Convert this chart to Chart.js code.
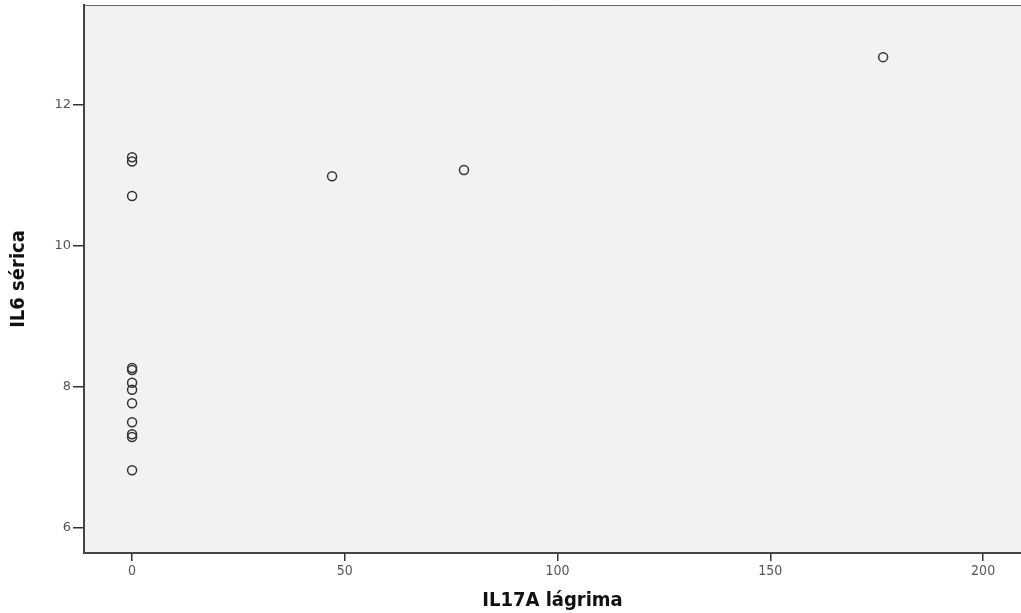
<!DOCTYPE html>
<html>
<head>
<meta charset="utf-8">
<script src="https://cdn.jsdelivr.net/npm/chart.js@4/dist/chart.umd.min.js"></script>
<style>
  html, body { margin: 0; padding: 0; background: #fff; overflow: hidden; }
  canvas { display: block; }
</style>
</head>
<body>
<canvas id="scatter" width="1021" height="613"></canvas>
<script>
// IL17A en lágrima (eje x) frente a IL6 sérica (eje y)
const il17aLagrima = [0, 0, 0, 0, 0, 0, 0, 0, 0, 0, 0, 0, 47, 78, 176.5];
const il6Serica   = [11.26, 11.2, 10.71, 8.27, 8.24, 8.06, 7.96, 7.77, 7.5, 7.33, 7.29, 6.82, 10.99, 11.08, 12.68];
const xTicks = [0, 50, 100, 150, 200];
const yTicks = [6, 8, 10, 12];

const puntos = il17aLagrima.map((x, i) => ({ x: x, y: il6Serica[i] }));

const fuenteTitulo = "'DejaVu Sans Condensed', 'Roboto Condensed', 'DejaVu Sans', sans-serif";

// fondo gris del área de trazado + borde superior
const fondoPlot = {
    id: 'fondoPlot',
    beforeDraw(chart) {
        const a = chart.chartArea, c = chart.ctx;
        c.save();
        c.fillStyle = '#f2f2f2';
        c.fillRect(a.left, a.top, a.right - a.left, a.bottom - a.top);
        c.strokeStyle = '#666';
        c.lineWidth = 1;
        c.beginPath();
        c.moveTo(a.left, a.top + 0.5);
        c.lineTo(a.right, a.top + 0.5);
        c.stroke();
        c.restore();
    }
};

new Chart(document.getElementById('scatter'), {
    type: 'scatter',
    data: {
        datasets: [{
            data: puntos,
            pointRadius: 4.5,
            pointBorderWidth: 1.5,
            borderColor: '#333',
            backgroundColor: 'rgba(0,0,0,0)'
        }]
    },
    options: {
        responsive: false,
        animation: false,
        layout: { autoPadding: false, padding: { top: 5, right: 0, left: 0, bottom: 0 } },
        plugins: { legend: { display: false }, tooltip: { enabled: false } },
        scales: {
            x: {
                type: 'linear',
                min: -11.3,
                max: 208.9,
                afterBuildTicks: s => { s.ticks = xTicks.map(v => ({ value: v })); },
                afterFit: s => { s.height = 60; s.paddingLeft = 0; s.paddingRight = 0; },
                grid: { drawOnChartArea: false, tickLength: 8, color: '#333', lineWidth: 1.5 },
                border: { display: true, color: '#444', width: 2 },
                ticks: {
                    padding: 2,
                    color: '#555',
                    font: { family: fuenteTitulo, size: 14 }
                },
                title: {
                    display: true,
                    text: 'IL17A lágrima',
                    color: '#111',
                    font: { family: fuenteTitulo, size: 20, weight: 'bold' },
                    padding: { top: 2, bottom: 0 }
                }
            },
            y: {
                type: 'linear',
                min: 5.645,
                max: 13.42,
                afterBuildTicks: s => { s.ticks = yTicks.map(v => ({ value: v })); },
                afterFit: s => { s.width = 84; s.paddingTop = 0; s.paddingBottom = 0; },
                grid: { drawOnChartArea: false, tickLength: 11, color: '#333', lineWidth: 1.5 },
                border: { display: true, color: '#444', width: 2 },
                ticks: {
                    padding: 2,
                    color: '#555',
                    font: { family: 'DejaVu Sans', size: 13 }
                },
                title: {
                    display: true,
                    text: 'IL6 sérica',
                    color: '#111',
                    font: { family: fuenteTitulo, size: 20, weight: 'bold' },
                    padding: { top: 7, bottom: 6 }
                }
            }
        }
    },
    plugins: [fondoPlot]
});
</script>
</body>
</html>
